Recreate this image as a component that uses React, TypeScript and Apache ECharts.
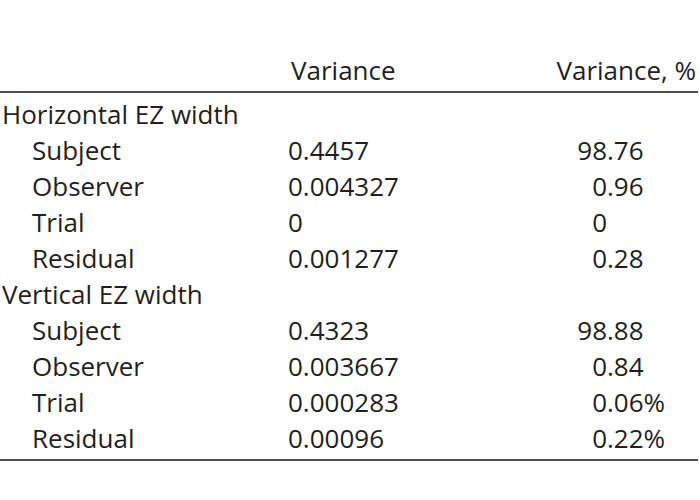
import React, { useEffect, useRef } from "react";
import * as echarts from "echarts";

const headers = ["", "Variance", "Variance, %"];
const groups = ["Horizontal EZ width", "Vertical EZ width"];
const components = ["Subject", "Observer", "Trial", "Residual"];
const horizontalVariance = ["0.4457", "0.004327", "0", "0.001277"];
const horizontalPercent = ["98.76", "0.96", "0", "0.28"];
const verticalVariance = ["0.4323", "0.003667", "0.000283", "0.00096"];
const verticalPercent = ["98.88", "0.84", "0.06%", "0.22%"];

const FONT = "Open Sans";
const SIZE = 26;
const COLOR = "#231f20";

export default function App() {
  const ref = useRef<HTMLDivElement>(null);
  useEffect(() => {
    if (!ref.current) return;
    const chart = echarts.init(ref.current, null, { renderer: "svg" });
    const els: any[] = [];
    const txt = (x: number, y: number, s: string, align: string = "left") => {
      els.push({
        type: "text",
        x,
        y,
        style: {
          text: s,
          font: `${SIZE}px "${FONT}"`,
          fill: COLOR,
          align,
          verticalAlign: "middle",
        },
      });
    };
    const line = (y: number) => {
      els.push({
        type: "line",
        shape: { x1: 0, y1: y, x2: 698, y2: y },
        style: { stroke: "#4d4d4d", lineWidth: 2 },
      });
    };
    const colLabel = 2;
    const colIndent = 32;
    const colVar = 288;
    const decX = 607;
    const pct = (y: number, s: string) => {
      const i = s.indexOf(".");
      const intPart = i < 0 ? s : s.slice(0, i);
      const rest = i < 0 ? "" : s.slice(i);
      txt(decX, y, intPart, "right");
      if (rest) txt(decX, y, rest, "left");
    };
    const yOff = 1;
    txt(291, 69 + yOff, headers[1]);
    txt(696, 69 + yOff, headers[2], "right");
    line(92);
    line(460);
    const groupData = [
      [horizontalVariance, horizontalPercent],
      [verticalVariance, verticalPercent],
    ];
    let row = 0;
    groups.forEach((g, gi) => {
      const y0 = 113 + row * 36 + yOff;
      txt(colLabel, y0, g);
      row++;
      components.forEach((c, ci) => {
        const y = 113 + row * 36 + yOff;
        txt(colIndent, y, c);
        txt(colVar, y, groupData[gi][0][ci]);
        pct(y, groupData[gi][1][ci]);
        row++;
      });
    });
    chart.setOption({ animation: false, graphic: { elements: els } });
    return () => chart.dispose();
  }, []);
  return <div ref={ref} style={{ width: 700, height: 500, position: "absolute", left: 0, top: 0, background: "#fff" }} />;
}
